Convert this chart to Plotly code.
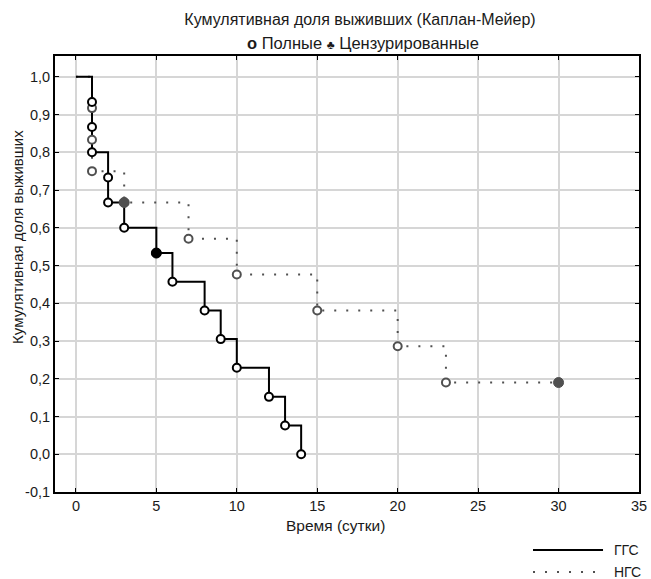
import plotly.graph_objects as go

# ---- data ----
ggs_time = [0, 1, 2, 3, 5, 6, 8, 9, 10, 12, 13, 14]
ggs_surv = [1.0, 0.8, 0.667, 0.6, 0.533, 0.457, 0.381, 0.305, 0.229, 0.152, 0.076, 0.0]
ggs_event_time = [1, 1, 1, 2, 2, 3, 5, 6, 8, 9, 10, 12, 13, 14]
ggs_event_surv = [0.933, 0.867, 0.8, 0.733, 0.667, 0.6, 0.533, 0.457, 0.381, 0.305, 0.229, 0.152, 0.076, 0.0]
ggs_cens_time = [5]
ggs_cens_surv = [0.533]

ngs_time = [0, 1, 3, 7, 10, 15, 20, 23, 30]
ngs_surv = [1.0, 0.75, 0.667, 0.571, 0.476, 0.381, 0.286, 0.190, 0.190]
ngs_event_time = [1, 1, 1, 3, 7, 10, 15, 20, 23]
ngs_event_surv = [0.917, 0.833, 0.75, 0.667, 0.571, 0.476, 0.381, 0.286, 0.190]
ngs_cens_time = [3, 30]
ngs_cens_surv = [0.667, 0.190]

series_names = ["ГГС", "НГС"]
x_ticks = [0, 5, 10, 15, 20, 25, 30, 35]
y_tickvals = [-0.1, 0.0, 0.1, 0.2, 0.3, 0.4, 0.5, 0.6, 0.7, 0.8, 0.9, 1.0]
y_ticktext = ["-0,1", "0,0", "0,1", "0,2", "0,3", "0,4", "0,5", "0,6", "0,7", "0,8", "0,9", "1,0"]

FONT = "Liberation Sans, Arial, sans-serif"
BLACK = "#000000"
GREY = "#505050"
TXT = "#1a1a1a"
NGS_DASH = "2px,10px"

fig = go.Figure()

# step lines
fig.add_trace(go.Scatter(x=ngs_time, y=ngs_surv, mode="lines", line_shape="hv",
                         line=dict(color=GREY, width=2, dash=NGS_DASH),
                         name=series_names[1], showlegend=False))
fig.add_trace(go.Scatter(x=ggs_time, y=ggs_surv, mode="lines", line_shape="hv",
                         line=dict(color=BLACK, width=2),
                         name=series_names[0], showlegend=False))

# complete (event) points
fig.add_trace(go.Scatter(x=ngs_event_time, y=ngs_event_surv, mode="markers",
                         marker=dict(symbol="circle", size=8, color="white",
                                     line=dict(color=GREY, width=2)),
                         name="НГС полные", showlegend=False))
fig.add_trace(go.Scatter(x=ggs_event_time, y=ggs_event_surv, mode="markers",
                         marker=dict(symbol="circle", size=8, color="white",
                                     line=dict(color=BLACK, width=2)),
                         name="ГГС полные", showlegend=False))
# censored points
fig.add_trace(go.Scatter(x=ngs_cens_time, y=ngs_cens_surv, mode="markers",
                         marker=dict(symbol="circle", size=10, color=GREY,
                                     line=dict(color=GREY, width=1)),
                         name="НГС цензурированные", showlegend=False))
fig.add_trace(go.Scatter(x=ggs_cens_time, y=ggs_cens_surv, mode="markers",
                         marker=dict(symbol="circle", size=10, color=BLACK,
                                     line=dict(color=BLACK, width=1)),
                         name="ГГС цензурированные", showlegend=False))

axis_common = dict(showline=True, linecolor=BLACK, linewidth=2, mirror="ticks",
                   ticks="inside", ticklen=4, tickcolor=BLACK, tickwidth=1,
                   showgrid=True, gridcolor="#d6d6d6", gridwidth=2, zeroline=False,
                   tickfont=dict(family=FONT, size=14.5, color=TXT))

# legend keys (bottom right), drawn in paper coordinates
legend_shapes = [
    dict(type="line", xref="paper", yref="paper", x0=0.8185, x1=0.9384, y0=-0.133, y1=-0.133,
         line=dict(color=BLACK, width=2)),
    dict(type="line", xref="paper", yref="paper", x0=0.8185, x1=0.9384, y0=-0.1835, y1=-0.1835,
         line=dict(color=GREY, width=2, dash=NGS_DASH)),
]
legend_texts = [
    dict(text=series_names[0], xref="paper", yref="paper", x=0.9538, y=-0.133,
         xanchor="left", yanchor="middle", showarrow=False,
         font=dict(family=FONT, size=14, color=TXT)),
    dict(text=series_names[1], xref="paper", yref="paper", x=0.9538, y=-0.1835,
         xanchor="left", yanchor="middle", showarrow=False,
         font=dict(family=FONT, size=14, color=TXT)),
]

fig.update_layout(
    width=651, height=579,
    margin=dict(l=55, r=12, t=56, b=87, autoexpand=False),
    paper_bgcolor="white", plot_bgcolor="white",
    font=dict(family=FONT, size=14, color=TXT),
    showlegend=False,
    title=dict(text="Кумулятивная доля выживших (Каплан-Мейер)",
               x=0.553, xanchor="center", y=0.967, yanchor="middle",
               font=dict(family=FONT, size=16, color=TXT)),
    xaxis=dict(range=[-1.3, 35], tickvals=x_ticks, **axis_common),
    yaxis=dict(range=[-0.1, 1.055], tickvals=y_tickvals, ticktext=y_ticktext, **axis_common),
    shapes=legend_shapes,
    annotations=[
        dict(text="<b>o</b> Полные <span style='font-size:12px'>♣</span> Цензурированные",
             xref="paper", yref="paper", x=0.528, y=1.0298,
             xanchor="center", yanchor="middle", showarrow=False,
             font=dict(family=FONT, size=16.5, color=TXT)),
        dict(text="Кумулятивная доля выживших", textangle=-90, xref="paper", yref="paper",
             x=-0.0634, y=0.585, xanchor="center", yanchor="middle", showarrow=False,
             font=dict(family=FONT, size=15, color=TXT)),
        dict(text="Время (сутки)", xref="paper", yref="paper",
             x=0.481, y=-0.0757, xanchor="center", yanchor="middle", showarrow=False,
             font=dict(family=FONT, size=15.5, color=TXT)),
    ] + legend_texts,
)

fig.write_html("out.html", config={"displayModeBar": False},
               post_script="document.body.style.margin='0px';")
